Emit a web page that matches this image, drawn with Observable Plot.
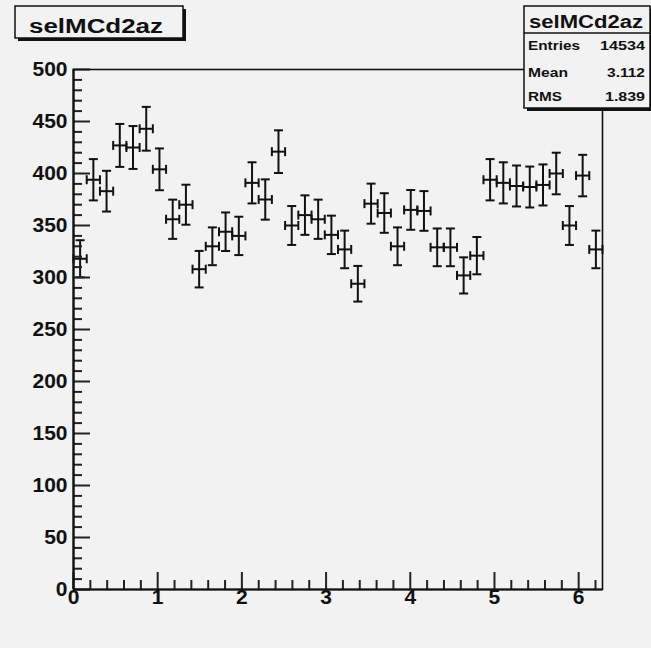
<!DOCTYPE html>
<html>
<head>
<meta charset="utf-8">
<script src="https://cdn.jsdelivr.net/npm/d3@7"></script>
<script src="https://cdn.jsdelivr.net/npm/@observablehq/plot@0.6"></script>
<style>
  html, body { margin: 0; padding: 0; background: #f2f2f2; }
  #chart { width: 651px; height: 648px; }
</style>
</head>
<body>
<div id="chart"></div>
<script>
const histName = "selMCd2az";
const xMin = 0;
const xMax = 2 * Math.PI;
const binCounts = [
  318, 394, 383, 427, 425, 443, 404, 356, 370, 308,
  330, 344, 340, 391, 375, 421, 350, 360, 356, 341,
  327, 294, 371, 362, 330, 365, 364, 329, 329, 302,
  321, 394, 391, 388, 387, 389, 400, 350, 398, 327
];
const statLabels = ["Entries", "Mean", "RMS"];
const statValues = ["14534", "3.112", "1.839"];
const xTickLabels = [0, 1, 2, 3, 4, 5, 6];
const yTickLabels = [0, 50, 100, 150, 200, 250, 300, 350, 400, 450, 500];
const xMinorStep = 0.2;
const yMinorStep = 10;

// ---- table built from the arrays ----
const nBins = binCounts.length;
const bw = (xMax - xMin) / nBins;
const rows = binCounts.map((n, i) => {
  const e = Math.sqrt(n); // ROOT Poisson error
  return {lo: xMin + i * bw, hi: xMin + (i + 1) * bw, c: xMin + (i + 0.5) * bw, n, top: n + e, bot: n - e};
});
const xMinor = d3.range(0, xMax, xMinorStep).map(v => +v.toFixed(3)).filter(v => !xTickLabels.includes(v));
const yMinor = d3.range(0, 500, yMinorStep).filter(v => !yTickLabels.includes(v));

const W = 651, H = 648, mL = 73, mT = 69, mR = 49, mB = 59;
const innerW = W - mL - mR, innerH = H - mT - mB;
const ink = "#111111";
const tickInk = "#222222";
const yMax = 500;
// tick lengths (pixels) converted into scale units
const pxY = px => px * yMax / innerH;
const pxX = px => px * (xMax - xMin) / innerW;

const rad = size => Math.sqrt(size / Math.PI);
const hCap = {draw(ctx, size) { const r = rad(size); ctx.moveTo(-r, 0); ctx.lineTo(r, 0); }};
const vCap = {draw(ctx, size) { const r = rad(size); ctx.moveTo(0, -r); ctx.lineTo(0, r); }};

const chart = Plot.plot({
  width: W, height: H,
  marginLeft: mL, marginTop: mT, marginRight: mR, marginBottom: mB,
  style: {background: "#f2f2f2", fontFamily: "'Liberation Sans', Arial, Helvetica, sans-serif", overflow: "visible"},
  x: {domain: [xMin, xMax], axis: null},
  y: {domain: [0, yMax], axis: null},
  marks: [
    // error bars
    Plot.ruleX(rows, {x: "c", y1: "bot", y2: "top", stroke: ink, strokeWidth: 2}),
    Plot.ruleY(rows, {y: "n", x1: "lo", x2: "hi", stroke: ink, strokeWidth: 2}),
    Plot.dot(rows, {x: "c", y: "top", symbol: hCap, r: 4.5, stroke: ink, strokeWidth: 2, fill: "none"}),
    Plot.dot(rows, {x: "c", y: "bot", symbol: hCap, r: 4.5, stroke: ink, strokeWidth: 2, fill: "none"}),
    Plot.dot(rows, {x: "lo", y: "n", symbol: vCap, r: 4.5, stroke: ink, strokeWidth: 2, fill: "none"}),
    Plot.dot(rows, {x: "hi", y: "n", symbol: vCap, r: 4.5, stroke: ink, strokeWidth: 2, fill: "none"}),
    // inward ticks (ROOT style)
    Plot.ruleX(xTickLabels, {x: d => d, y1: 0, y2: pxY(17), stroke: tickInk, strokeWidth: 2}),
    Plot.ruleX(xMinor, {x: d => d, y1: 0, y2: pxY(9), stroke: tickInk, strokeWidth: 2}),
    Plot.ruleY(yTickLabels, {y: d => d, x1: xMin, x2: xMin + pxX(17), stroke: tickInk, strokeWidth: 2}),
    Plot.ruleY(yMinor, {y: d => d, x1: xMin, x2: xMin + pxX(9), stroke: tickInk, strokeWidth: 2}),
    // frame
    Plot.frame({stroke: ink, strokeWidth: 1.6}),
    Plot.ruleX([xMin], {stroke: ink, strokeWidth: 2.2}),
    Plot.ruleY([0], {stroke: ink, strokeWidth: 2.2}),
    // tick labels
    Plot.text(xTickLabels, {x: d => d, text: d => String(d), frameAnchor: "bottom", dy: 14, fontSize: 21, fontWeight: "bold", fill: ink}),
    Plot.text(yTickLabels, {y: d => d, text: d => String(d), frameAnchor: "left", dx: -6, textAnchor: "end", fontSize: 21, fontWeight: "bold", fill: ink})
  ]
});
document.getElementById("chart").appendChild(chart);

const svg = d3.select(chart);

function boxText(g, str, x, y, size, anchor, len) {
  g.append("text").attr("x", x).attr("y", y).attr("font-size", size).attr("font-weight", "bold")
    .attr("text-anchor", anchor).attr("fill", ink)
    .attr("textLength", len).attr("lengthAdjust", "spacingAndGlyphs").text(str);
}

// title box
const tb = svg.append("g");
tb.append("rect").attr("x", 18).attr("y", 9).attr("width", 168).attr("height", 32).attr("fill", ink);
tb.append("rect").attr("x", 15).attr("y", 6).attr("width", 168).attr("height", 32).attr("fill", "#f2f2f2").attr("stroke", ink).attr("stroke-width", 1.5);
boxText(tb, histName, 29, 33, 20, "start", 134);

// stats box
const sb = svg.append("g");
sb.append("rect").attr("x", 527).attr("y", 9).attr("width", 126).attr("height", 102).attr("fill", ink);
sb.append("rect").attr("x", 524).attr("y", 6).attr("width", 126).attr("height", 102).attr("fill", "#f2f2f2").attr("stroke", ink).attr("stroke-width", 1.5);
sb.append("line").attr("x1", 524).attr("x2", 650).attr("y1", 33).attr("y2", 33).attr("stroke", ink).attr("stroke-width", 1.5);
boxText(sb, histName, 529, 27.5, 18, "start", 114);
const rowY = [49.5, 76.5, 100.5];
const labLen = [52, 40, 34];
const valLen = [45, 38, 40];
statLabels.forEach((s, i) => {
  boxText(sb, s, 528, rowY[i], 13, "start", labLen[i]);
  boxText(sb, statValues[i], 645, rowY[i], 13, "end", valLen[i]);
});
</script>
</body>
</html>
